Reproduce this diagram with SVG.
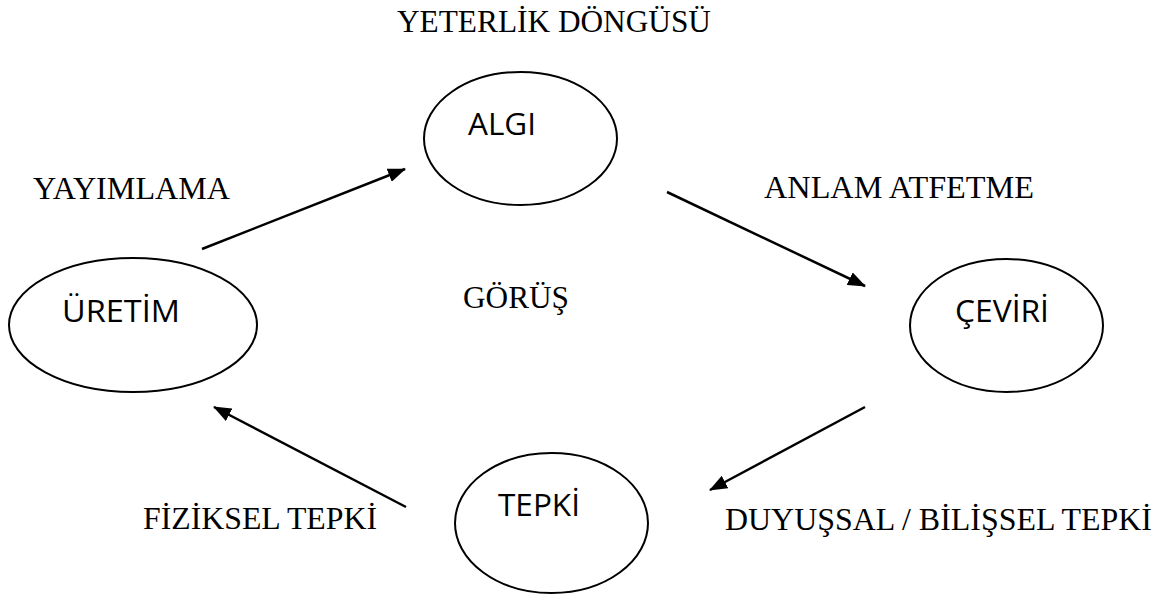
<svg xmlns="http://www.w3.org/2000/svg" width="1166" height="595" viewBox="0 0 1166 595">
<style>
.bg{fill:#ffffff}
.node{fill:#ffffff;stroke:#000000;stroke-width:2}
.nl{font-family:"Open Sans","Noto Sans",sans-serif;font-size:31px;fill:#000000}
.lbl{font-family:"Liberation Serif","Times New Roman",serif;font-size:31px;fill:#000000}
.edge{stroke:#000000;stroke-width:2.5;fill:none}
</style>
<defs>
<marker id="arr" viewBox="0 0 18 14" markerWidth="18" markerHeight="14" refX="17" refY="7" orient="auto" markerUnits="userSpaceOnUse">
<path d="M0,0 L18,7 L0,14 z" fill="#000000"/>
</marker>
</defs>
<rect class="bg" x="0" y="0" width="1166" height="595"/>
<text class="lbl" x="397" y="32" textLength="314" lengthAdjust="spacingAndGlyphs">YETERLİK DÖNGÜSÜ</text>
<g id="connectors">
<line class="edge" x1="202" y1="249" x2="405" y2="169" marker-end="url(#arr)"/>
<line class="edge" x1="667" y1="192" x2="865" y2="286" marker-end="url(#arr)"/>
<line class="edge" x1="865" y1="407" x2="710" y2="490" marker-end="url(#arr)"/>
<line class="edge" x1="406" y1="507" x2="214" y2="407" marker-end="url(#arr)"/>
</g>
<g id="labels">
<text class="lbl" x="33" y="199" textLength="197" lengthAdjust="spacingAndGlyphs">YAYIMLAMA</text>
<text class="lbl" x="764" y="198" textLength="270" lengthAdjust="spacingAndGlyphs">ANLAM ATFETME</text>
<text class="lbl" x="463" y="308" textLength="106" lengthAdjust="spacingAndGlyphs">GÖRÜŞ</text>
<text class="lbl" x="143" y="529" textLength="234" lengthAdjust="spacingAndGlyphs">FİZİKSEL TEPKİ</text>
<text class="lbl" x="725" y="530" textLength="427" lengthAdjust="spacingAndGlyphs">DUYUŞSAL / BİLİŞSEL TEPKİ</text>
</g>
<g id="node-algi">
<ellipse class="node" cx="520.5" cy="138.5" rx="96.5" ry="66.5"/>
<text class="nl" x="468" y="135" textLength="68" lengthAdjust="spacingAndGlyphs">ALGI</text>
</g>
<g id="node-uretim">
<ellipse class="node" cx="133" cy="325" rx="124" ry="67"/>
<text class="nl" x="62" y="322" textLength="118" lengthAdjust="spacingAndGlyphs">ÜRETİM</text>
</g>
<g id="node-ceviri">
<ellipse class="node" cx="1006.5" cy="325.5" rx="96.5" ry="66.5"/>
<text class="nl" x="955" y="322" textLength="94" lengthAdjust="spacingAndGlyphs">ÇEVİRİ</text>
</g>
<g id="node-tepki">
<ellipse class="node" cx="551.5" cy="523" rx="96.5" ry="70"/>
<text class="nl" x="498" y="516" textLength="82" lengthAdjust="spacingAndGlyphs">TEPKİ</text>
</g>
</svg>
